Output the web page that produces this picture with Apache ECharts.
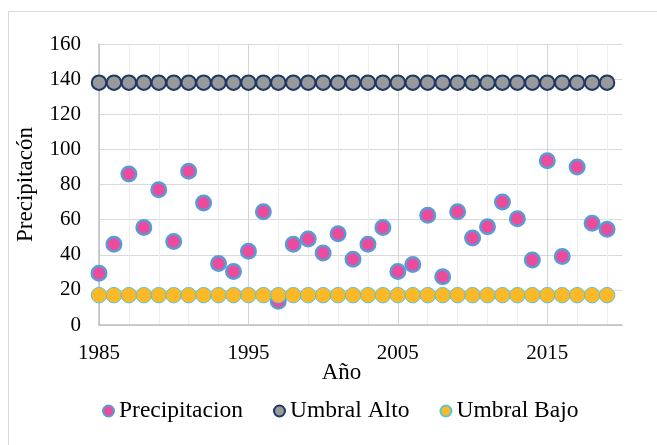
<!DOCTYPE html>
<html>
<head>
<meta charset="utf-8">
<script src="https://cdn.jsdelivr.net/npm/echarts@6/dist/echarts.min.js"></script>
<style>
html, body { margin: 0; padding: 0; background: #ffffff; }
#chart { width: 657px; height: 445px; }
</style>
</head>
<body>
<div id="chart"></div>
<script>
const years = [1985, 1986, 1987, 1988, 1989, 1990, 1991, 1992, 1993, 1994,
  1995, 1996, 1997, 1998, 1999, 2000, 2001, 2002, 2003, 2004,
  2005, 2006, 2007, 2008, 2009, 2010, 2011, 2012, 2013, 2014,
  2015, 2016, 2017, 2018, 2019];
const precipitacion = [29.5, 46, 86, 55.5, 77, 47.5, 87.5, 69.5, 35, 30.5,
  42, 64.5, 13.5, 46, 49, 41, 52, 37.5, 46, 55.5,
  30.5, 34.5, 62.5, 27.5, 64.5, 49.5, 56, 70, 60.5, 37,
  93.5, 39, 90, 58, 54.5];
const umbralAlto = [138, 138, 138, 138, 138, 138, 138, 138, 138, 138,
  138, 138, 138, 138, 138, 138, 138, 138, 138, 138,
  138, 138, 138, 138, 138, 138, 138, 138, 138, 138,
  138, 138, 138, 138, 138];
const umbralBajo = [17, 17, 17, 17, 17, 17, 17, 17, 17, 17,
  17, 17, 17, 17, 17, 17, 17, 17, 17, 17,
  17, 17, 17, 17, 17, 17, 17, 17, 17, 17,
  17, 17, 17, 17, 17];
const xLabels = [1985, 1995, 2005, 2015];
const yTicks = [0, 20, 40, 60, 80, 100, 120, 140, 160];
const seriesNames = ['Precipitacion', 'Umbral Alto', 'Umbral Bajo'];

const FONT = '"Times New Roman", "Liberation Serif", serif';
const pair = (ys) => years.map((y, i) => [y, ys[i]]);

const chart = echarts.init(document.getElementById('chart'), null, { renderer: 'canvas' });
chart.setOption({
  animation: false,
  backgroundColor: '#ffffff',
  textStyle: { fontFamily: FONT, color: '#000000' },
  graphic: [{
    type: 'rect',
    shape: { x: 8.5, y: 11.5, width: 700, height: 500 },
    style: { fill: 'none', stroke: '#d9d9d9', lineWidth: 1 },
    silent: true, z: -10
  }],
  grid: { left: 99, right: 35, top: 44, bottom: 120, containLabel: false, outerBoundsMode: 'none' },
  legend: {
    data: [
      { name: seriesNames[0] },
      { name: seriesNames[1], textStyle: { padding: [0, 14, 0, 0] } },
      { name: seriesNames[2] }
    ],
    left: 97, top: 394,
    icon: 'circle',
    itemWidth: 11, itemHeight: 11, itemGap: 30,
    textStyle: { fontFamily: FONT, fontSize: 23.5, color: '#000000' }
  },
  xAxis: {
    type: 'value',
    min: 1985, max: 2020, interval: 2,
    name: 'Año', nameLocation: 'middle', nameGap: 36, nameMoveOverlap: false,
    nameTextStyle: { fontFamily: FONT, fontSize: 23, color: '#000000', padding: [0, 38, 0, 0] },
    axisLine: { show: true, onZero: false, lineStyle: { color: '#bfbfbf', width: 1.5 } },
    axisTick: { show: false },
    axisLabel: {
      fontFamily: FONT, fontSize: 21, color: '#000000', margin: 18,
      showMaxLabel: false,
      formatter: (v) => xLabels.indexOf(Math.round(v)) >= 0 ? String(Math.round(v)) : ''
    },
    splitLine: {
      show: true, showMaxLine: false,
      lineStyle: { color: ['#d4d4d4', '#eeeeee', '#eeeeee', '#eeeeee', '#eeeeee'], width: 1 }
    }
  },
  yAxis: {
    type: 'value',
    min: 0, max: 160, interval: 20,
    name: 'Precipitacón', nameLocation: 'middle', nameGap: 62, nameRotate: 90, nameMoveOverlap: false,
    nameTextStyle: { fontFamily: FONT, fontSize: 23, color: '#000000' },
    axisLine: { show: true, lineStyle: { color: '#bfbfbf', width: 1.5 } },
    axisTick: { show: false },
    axisLabel: {
      fontFamily: FONT, fontSize: 21, color: '#000000', margin: 18,
      formatter: (v) => yTicks.indexOf(v) >= 0 ? String(v) : ''
    },
    splitLine: { show: true, lineStyle: { color: '#d9d9d9', width: 1 } }
  },
  series: [
    {
      name: seriesNames[0], type: 'scatter', data: pair(precipitacion),
      symbol: 'circle', symbolSize: 14.5,
      itemStyle: { color: '#ec4b9c', borderColor: '#5b9bd5', borderWidth: 2.5, opacity: 1 },
      emphasis: { disabled: true }
    },
    {
      name: seriesNames[1], type: 'scatter', data: pair(umbralAlto),
      symbol: 'circle', symbolSize: 14.5,
      itemStyle: { color: '#97999a', borderColor: '#1f3864', borderWidth: 2, opacity: 1 },
      emphasis: { disabled: true }
    },
    {
      name: seriesNames[2], type: 'scatter', data: pair(umbralBajo),
      symbol: 'circle', symbolSize: 15.5,
      itemStyle: { color: '#fbb927', borderColor: '#5bc4d9', borderWidth: 1, opacity: 1 },
      emphasis: { disabled: true }
    }
  ]
});
</script>
</body>
</html>
